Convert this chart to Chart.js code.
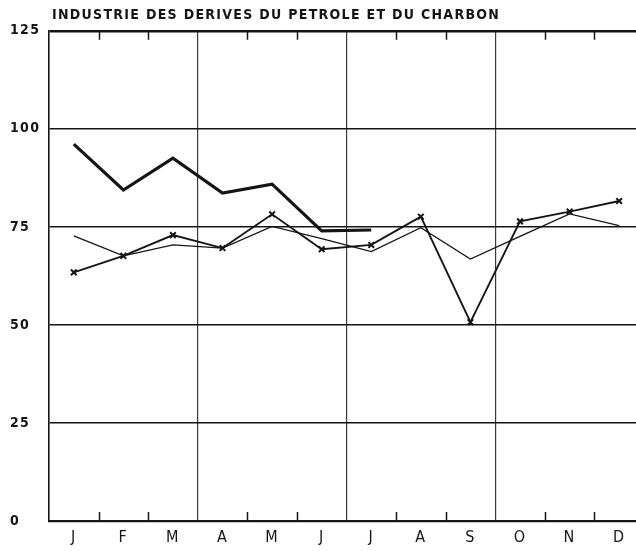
<!DOCTYPE html>
<html>
<head>
<meta charset="utf-8">
<script src="https://cdn.jsdelivr.net/npm/chart.js@4"></script>
<style>
html,body{margin:0;padding:0;background:#fff;}
#wrap{width:636px;height:551px;position:relative;}
</style>
</head>
<body>
<div id="wrap"><canvas id="c" width="636" height="551"></canvas></div>
<script>
const titleText = 'INDUSTRIE DES DERIVES DU PETROLE ET DU CHARBON';
const months = ['J','F','M','A','M','J','J','A','S','O','N','D'];
const yTicks = [0, 25, 50, 75, 100, 125];
// thick line (Jan–Jul)
const seriesThick = [96.1, 84.4, 92.5, 83.6, 85.9, 74.0, 74.2];
// thin line, no markers
const seriesThin = [72.7, 67.6, 70.4, 69.6, 75.1, 72.0, 68.7, 74.8, 66.8, 72.6, 78.3, 75.3];
// medium line with x markers
const seriesCross = [63.4, 67.6, 72.9, 69.6, 78.2, 69.3, 70.4, 77.6, 50.7, 76.4, 78.9, 81.6];

const toPts = arr => arr.map((v, i) => ({x: i + 0.5, y: v}));
const INK = '#151515';
const FONT = "'DejaVu Sans Condensed', 'DejaVu Sans', sans-serif";
const X_MAX = 11.84;

const spacingPlugin = {
  id: 'spacing',
  beforeDraw(chart) { chart.ctx.letterSpacing = '1.3px'; },
  afterDraw(chart) { chart.ctx.letterSpacing = '0px'; }
};
const titleShift = {
  id: 'titleShift',
  afterLayout(chart) {
    if (chart.titleBlock) chart.titleBlock.left = chart.chartArea.left + 3;
  }
};
const innerTicks = {
  id: 'innerTicks',
  beforeDatasetsDraw(chart) {
    const {ctx, chartArea} = chart;
    const xs = chart.scales.x;
    ctx.save();
    ctx.strokeStyle = INK;
    ctx.lineWidth = 1.5;
    [1,2,4,5,7,8,10,11].forEach(v => {
      const px = Math.round(xs.getPixelForValue(v)) + 0.5;
      ctx.beginPath();
      ctx.moveTo(px, chartArea.top);
      ctx.lineTo(px, chartArea.top + 9);
      ctx.moveTo(px, chartArea.bottom);
      ctx.lineTo(px, chartArea.bottom - 9);
      ctx.stroke();
    });
    ctx.restore();
  }
};

new Chart(document.getElementById('c'), {
  type: 'line',
  data: {
    datasets: [
      {
        label: 'A',
        data: toPts(seriesThick),
        borderColor: INK,
        borderWidth: 3.2,
        pointRadius: 0,
        tension: 0
      },
      {
        label: 'B',
        data: toPts(seriesThin),
        borderColor: INK,
        borderWidth: 1.3,
        pointRadius: 0,
        tension: 0
      },
      {
        label: 'C',
        data: toPts(seriesCross),
        borderColor: INK,
        borderWidth: 1.9,
        pointStyle: 'crossRot',
        pointRadius: 4,
        pointBorderWidth: 2,
        pointBorderColor: INK,
        tension: 0
      }
    ]
  },
  options: {
    responsive: false,
    animation: false,
    devicePixelRatio: 1,
    layout: {autoPadding: false, padding: {left: 10, right: 0, top: 0, bottom: 0}},
    plugins: {
      legend: {display: false},
      tooltip: {enabled: false},
      title: {
        display: true,
        text: titleText,
        align: 'start',
        color: INK,
        font: {family: FONT, size: 14, weight: 'bold', lineHeight: 1.2},
        padding: {top: 7, bottom: 7}
      }
    },
    scales: {
      x: {
        type: 'linear',
        min: 0,
        max: X_MAX,
        afterBuildTicks: s => {
          const t = [];
          for (let i = 0; i < 12; i++) { t.push({value: i}); t.push({value: i + 0.5}); }
          s.ticks = t;
        },
        afterFit: s => { s.height = 30; s.paddingLeft = 0; s.paddingRight = 0; },
        ticks: {
          autoSkip: false,
          maxRotation: 0,
          padding: 7,
          color: INK,
          font: {family: FONT, size: 16, lineHeight: 1.2},
          callback: (v) => (Math.abs(v % 1 - 0.5) < 1e-6) ? months[Math.floor(v)] : ''
        },
        grid: {
          drawTicks: false,
          color: c => (c.tick && [3,6,9].includes(c.tick.value)) ? '#3a3a3a' : 'rgba(0,0,0,0)',
          lineWidth: 1.2
        },
        border: {display: true, color: INK, width: 2.2}
      },
      y: {
        min: 0,
        max: 125,
        afterBuildTicks: s => { s.ticks = yTicks.map(v => ({value: v})); },
        afterFit: s => { s.width = 39; },
        ticks: {
          crossAlign: 'far',
          color: INK,
          font: {family: FONT, size: 14, weight: 'bold'},
          padding: 0
        },
        grid: {
          drawTicks: false,
          color: INK,
          lineWidth: c => (c.tick && c.tick.value === 125) ? 2.4 : 1.6
        },
        border: {display: true, color: INK, width: 1.6}
      }
    }
  },
  plugins: [spacingPlugin, titleShift, innerTicks]
});
</script>
</body>
</html>
